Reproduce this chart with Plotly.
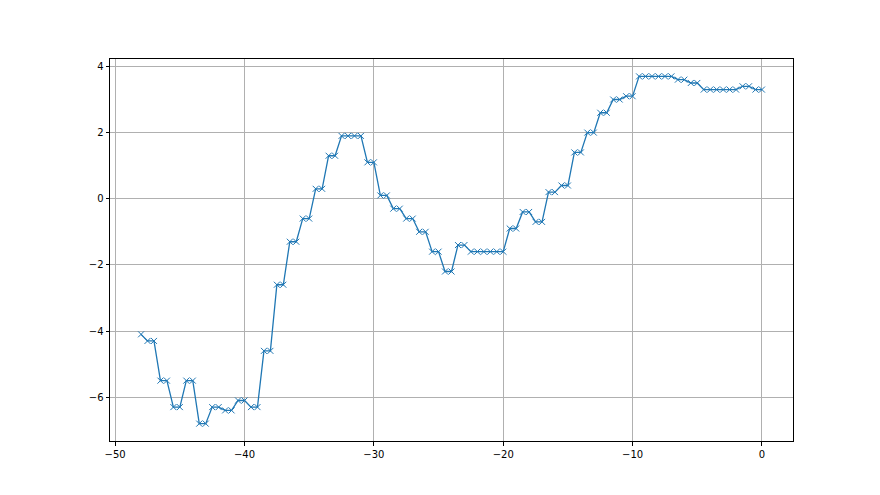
import plotly.graph_objects as go

x_vals = [-48.0,
          -47.5, -47.0, -46.5, -46.0, -45.5, -45.0, -44.5, -44.0, -43.5, -43.0,
          -42.5, -42.0, -41.5, -41.0, -40.5, -40.0, -39.5, -39.0, -38.5, -38.0,
          -37.5, -37.0, -36.5, -36.0, -35.5, -35.0, -34.5, -34.0, -33.5, -33.0,
          -32.5, -32.0, -31.5, -31.0, -30.5, -30.0, -29.5, -29.0, -28.5, -28.0,
          -27.5, -27.0, -26.5, -26.0, -25.5, -25.0, -24.5, -24.0, -23.5, -23.0,
          -22.5, -22.0, -21.5, -21.0, -20.5, -20.0, -19.5, -19.0, -18.5, -18.0,
          -17.5, -17.0, -16.5, -16.0, -15.5, -15.0, -14.5, -14.0, -13.5, -13.0,
          -12.5, -12.0, -11.5, -11.0, -10.5, -10.0, -9.5, -9.0, -8.5, -8.0,
          -7.5, -7.0, -6.5, -6.0, -5.5, -5.0, -4.5, -4.0, -3.5, -3.0,
          -2.5, -2.0, -1.5, -1.0, -0.5, 0.0]

y_vals = [-4.1,
          -4.3, -4.3, -5.5, -5.5, -6.3, -6.3, -5.5, -5.5, -6.8, -6.8,
          -6.3, -6.3, -6.4, -6.4, -6.1, -6.1, -6.3, -6.3, -4.6, -4.6,
          -2.6, -2.6, -1.3, -1.3, -0.6, -0.6, 0.3, 0.3, 1.3, 1.3,
          1.9, 1.9, 1.9, 1.9, 1.1, 1.1, 0.1, 0.1, -0.3, -0.3,
          -0.6, -0.6, -1.0, -1.0, -1.6, -1.6, -2.2, -2.2, -1.4, -1.4,
          -1.6, -1.6, -1.6, -1.6, -1.6, -1.6, -0.9, -0.9, -0.4, -0.4,
          -0.7, -0.7, 0.2, 0.2, 0.4, 0.4, 1.4, 1.4, 2.0, 2.0,
          2.6, 2.6, 3.0, 3.0, 3.1, 3.1, 3.7, 3.7, 3.7, 3.7,
          3.7, 3.7, 3.6, 3.6, 3.5, 3.5, 3.3, 3.3, 3.3, 3.3,
          3.3, 3.3, 3.4, 3.4, 3.3, 3.3]

x_ticks = [-50, -40, -30, -20, -10, 0]
y_ticks = [-6, -4, -2, 0, 2, 4]

color = "#1f77b4"

fig = go.Figure()
fig.add_trace(go.Scatter(
    x=x_vals, y=y_vals, mode="lines+markers",
    line=dict(color=color, width=1.3),
    marker=dict(symbol="x-thin", size=6, color=color, line=dict(width=1, color=color)),
    showlegend=False,
))

axis_common = dict(
    showline=True, linecolor="black", linewidth=1, mirror=True,
    showgrid=True, gridcolor="#b0b0b0", gridwidth=0.8,
    zeroline=False, ticks="outside", ticklen=3.5, tickwidth=0.8, tickcolor="black",
    tickfont=dict(family="DejaVu Sans", size=10, color="black"),
)

fig.update_layout(
    width=880, height=495,
    margin=dict(l=102, r=95, t=51, b=62),
    paper_bgcolor="white", plot_bgcolor="white",
    xaxis=dict(range=[-50.4, 2.4], tickvals=x_ticks, ticktext=["\u221250", "\u221240", "\u221230", "\u221220", "\u221210", "0"], **axis_common),
    yaxis=dict(range=[-7.325, 4.225], tickvals=y_ticks, ticktext=["\u22126", "\u22124", "\u22122", "0", "2", "4"], **axis_common),
)

fig.write_html("out.html")
